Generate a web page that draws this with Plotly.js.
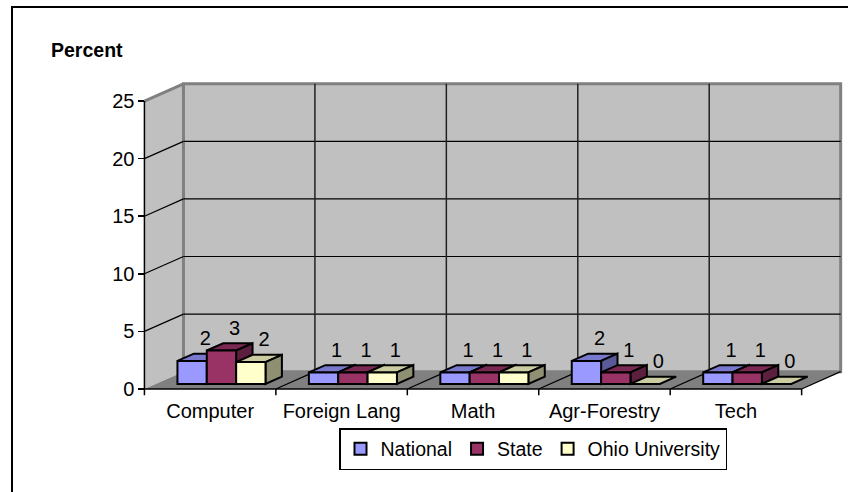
<!DOCTYPE html>
<html>
<head>
<meta charset="utf-8">
<script src="https://cdn.plot.ly/plotly-3.0.1.min.js"></script>
<style>
  html, body { margin: 0; padding: 0; background: #fff; }
  #wrap { position: relative; width: 848px; height: 492px; overflow: hidden; }
  #chart { position: absolute; left: 0; top: 0; width: 848px; height: 492px; }
  #frame { position: absolute; left: 11px; top: 6px; width: 900px; height: 600px;
           border-left: 2px solid #000; border-top: 2px solid #000; pointer-events: none; }
</style>
</head>
<body>
<div id="wrap"><div id="chart"></div><div id="frame"></div></div>
<script>
// ---- data ----
const categories = ['Computer', 'Foreign Lang', 'Math', 'Agr-Forestry', 'Tech'];
const seriesNames = ['National', 'State', 'Ohio University'];
const national = [2.0, 1.0, 1.0, 2.0, 1.0];
const state    = [2.9, 1.0, 1.0, 1.0, 1.0];
const ohio     = [1.9, 1.0, 1.0, 0.0, 0.0];
const yTicks   = [0, 5, 10, 15, 20, 25];
const yTickText = ['0', '5', '10', '15', '20', '25'];

// ---- style ----
const FRONT = ['#9999ff', '#993366', '#ffffcc'];
const TOP   = ['#7878cc', '#7a2952', '#ccccA3'];
const SIDE  = ['#5a5a99', '#5c1f3d', '#8f8f72'];
const FONT = 'Liberation Sans, Arial, sans-serif';
const D = 0.297;    // depth shift in category units
const DY = 1.5;     // depth shift in value units
const F0 = 0.29;    // front gap fraction of depth
const FB = 0.42;    // bar depth fraction
const BARGAP = 0.33;
const YMAX = 25;
const XR = [-0.3, 5.33];
const YR = [-0.7, 27];

const series = [national, state, ohio];
const nCat = categories.length;
const nSer = series.length;
const groupW = 1 - BARGAP;
const w = groupW / nSer;
const fx = F0 * D, fy = F0 * DY;
const bD = FB * D, bDY = FB * DY;

const P = pts => 'M' + pts.map(p => p[0] + ',' + p[1]).join(' L') + ' Z';
const shapes = [];
const poly = (pts, fill, line, lw) => shapes.push({
  type: 'path', xref: 'x', yref: 'y', layer: 'below', path: P(pts),
  fillcolor: fill, line: { color: line || 'rgba(0,0,0,0)', width: lw || 0 }
});
const seg = (a, b, color, width) => shapes.push({
  type: 'line', xref: 'x', yref: 'y', layer: 'below',
  x0: a[0], y0: a[1], x1: b[0], y1: b[1], line: { color: color, width: width }
});

// walls
poly([[0, 0], [D, DY], [D, YMAX + DY], [0, YMAX]], '#c0c0c0');
poly([[D, DY], [nCat + D, DY], [nCat + D, YMAX + DY], [D, YMAX + DY]], '#c0c0c0', '#808080', 3);
seg([0, YMAX], [D, YMAX + DY], '#808080', 3);
// floor
poly([[0, 0], [nCat, 0], [nCat + D, DY], [D, DY]], '#808080');
// gridlines
yTicks.filter(v => v > 0 && v < YMAX).forEach(v => {
  seg([0, v], [D, v + DY], '#000', 1.2);
  seg([D, v + DY], [nCat + D, v + DY], '#000', 1.2);
});
// category dividers on back wall and floor
for (let k = 1; k < nCat; k++) seg([k + D, DY], [k + D, YMAX + DY], '#222', 1.5);
for (let k = 1; k <= nCat; k++) seg([k, 0], [k + D, DY], '#000', 1.2);
// front axes
seg([0, 0], [0, YMAX], '#000', 1.5);
seg([0, 0], [nCat, 0], '#000', 1.5);
for (let k = 0; k <= nCat; k++) seg([k, 0], [k, -0.55], '#000', 1.5);

// bar top and side faces
const labX = [], labY = [], labT = [];
for (let c = 0; c < nCat; c++) {
  for (let s = 0; s < nSer; s++) {
    const v = series[s][c];
    const x0 = c + 0.5 - groupW / 2 + s * w + fx;
    const x1 = x0 + w;
    const t = fy + v;
    poly([[x0, t], [x1, t], [x1 + bD, t + bDY], [x0 + bD, t + bDY]], TOP[s], '#000', 2);
    if (v > 0) poly([[x1, fy], [x1, t], [x1 + bD, t + bDY], [x1 + bD, fy + bDY]], SIDE[s], '#000', 2);
    labX.push(x0 + w / 2 + 0.8 * bD);
    labY.push(t + bDY + 0.3);
    labT.push(v.toFixed(0));
  }
}

const traces = series.map((vals, s) => ({
  type: 'bar', name: seriesNames[s],
  x: categories.map((_, c) => c + 0.5 + fx),
  y: vals, base: fy,
  marker: { color: FRONT[s], line: { color: '#000', width: 2 } },
  hoverinfo: 'skip'
}));
traces.push({
  type: 'scatter', mode: 'text', x: labX, y: labY, text: labT,
  textposition: 'top center', textfont: { family: FONT, size: 20, color: '#000' },
  showlegend: false, cliponaxis: false, hoverinfo: 'skip'
});

const layout = {
  width: 848, height: 492,
  margin: { l: 105, r: 848 - 105 - 740, t: 78, b: 95 },
  paper_bgcolor: '#fff', plot_bgcolor: 'rgba(0,0,0,0)',
  font: { family: FONT, color: '#000' },
  barmode: 'group', bargap: BARGAP, bargroupgap: 0,
  title: { text: '<b>Percent</b>', xref: 'container', yref: 'container',
           x: 51 / 848, xanchor: 'left', y: 1 - 50 / 492, yanchor: 'middle',
           font: { family: FONT, size: 19.5, color: '#000' } },
  xaxis: { range: XR, tickvals: categories.map((_, c) => c + 0.5), ticktext: categories,
           ticks: '', showgrid: false, zeroline: false, showline: false,
           tickfont: { family: FONT, size: 20 }, fixedrange: true },
  yaxis: { range: YR, tickvals: yTicks, ticktext: yTickText, ticks: 'outside', ticklen: 6,
           tickwidth: 1.5, tickcolor: '#000', showgrid: false, zeroline: false, showline: false,
           anchor: 'free', position: (0 - XR[0]) / (XR[1] - XR[0]),
           tickfont: { family: FONT, size: 20 }, fixedrange: true },
  legend: { orientation: 'h', xref: 'container', yref: 'container',
            x: 533 / 848, xanchor: 'center', y: 1 - 449 / 492, yanchor: 'middle',
            bordercolor: '#000', borderwidth: 1.5, bgcolor: '#fff',
            font: { family: FONT, size: 19.5 }, itemwidth: 30, tracegroupgap: 0 },
  shapes: shapes
};

Plotly.newPlot('chart', traces, layout, { displayModeBar: false, staticPlot: true });
</script>
</body>
</html>
